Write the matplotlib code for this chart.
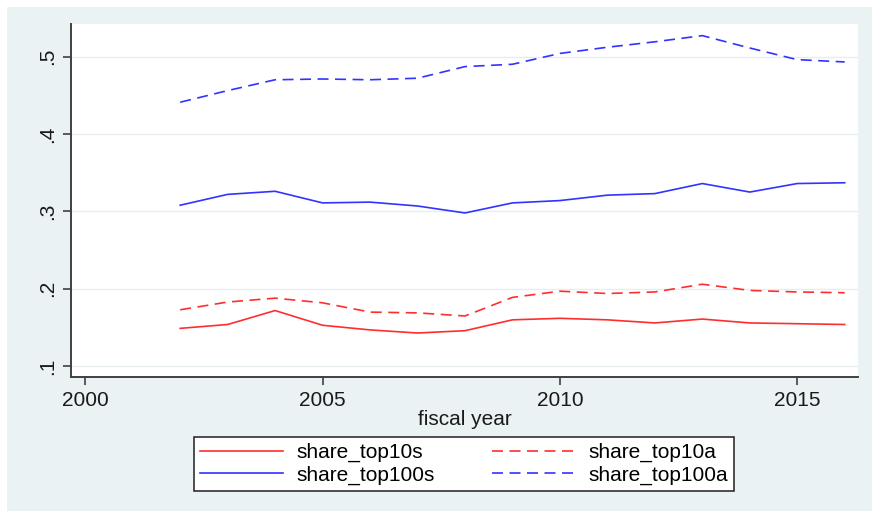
import numpy as np
import matplotlib.pyplot as plt
from matplotlib.patches import Rectangle

plt.rcParams['font.family'] = ['Liberation Sans', 'DejaVu Sans']

years = np.arange(2002, 2017)

share_top10s = [0.149, 0.154, 0.172, 0.153, 0.147, 0.143, 0.146, 0.160, 0.162,
                0.160, 0.156, 0.161, 0.156, 0.155, 0.154]
share_top10a = [0.173, 0.183, 0.188, 0.182, 0.170, 0.169, 0.165, 0.189, 0.197,
                0.194, 0.196, 0.206, 0.198, 0.196, 0.195]
share_top100s = [0.308, 0.322, 0.326, 0.311, 0.312, 0.307, 0.298, 0.311, 0.314,
                 0.321, 0.323, 0.336, 0.325, 0.336, 0.337]
share_top100a = [0.441, 0.456, 0.470, 0.471, 0.470, 0.472, 0.487, 0.490, 0.504,
                 0.512, 0.519, 0.527, 0.511, 0.496, 0.493]

yticks = [0.1, 0.2, 0.3, 0.4, 0.5]
ytick_labels = ['.1', '.2', '.3', '.4', '.5']
xticks = [2000, 2005, 2010, 2015]

bg = '#eaf2f3'
red = '#ff2e2e'
blue = '#3333ff'
dash = (0, (6.6, 3.9))

fig = plt.figure(figsize=(8.72, 5.11), dpi=100)
fig.patch.set_facecolor('white')
fig.patches.append(Rectangle((7 / 872, 0), 1, 1 - 7 / 511, transform=fig.transFigure,
                             facecolor=bg, edgecolor='none', zorder=-10))

ax = fig.add_axes([71 / 872, 134 / 511, 787 / 872, 353 / 511])
ax.set_facecolor('white')

l1, = ax.plot(years, share_top10s, color=red, lw=1.2, label='share_top10s')
l2, = ax.plot(years, share_top10a, color=red, lw=1.2, ls=dash, label='share_top10a')
l3, = ax.plot(years, share_top100s, color=blue, lw=1.2, label='share_top100s')
l4, = ax.plot(years, share_top100a, color=blue, lw=1.2, ls=dash, label='share_top100a')

ax.set_xlim(1999.70, 2016.28)
ax.set_ylim(0.0862, 0.542)
ax.set_yticks(yticks)
ax.set_yticklabels(ytick_labels, rotation=90, va='center')
ax.set_xticks(xticks)
ax.grid(axis='y', color='#e6eef0', lw=1.0)
ax.set_axisbelow(True)

for s in ['top', 'right']:
    ax.spines[s].set_visible(False)
for s in ['left', 'bottom']:
    ax.spines[s].set_color('#404040')
    ax.spines[s].set_linewidth(1.4)
ax.tick_params(direction='out', length=6, width=1.2, color='#404040',
               labelsize=15, labelcolor='#1a1a1a', pad=4)

ax.set_xlabel('fiscal year', fontsize=15, color='#1a1a1a', labelpad=0)

leg = fig.legend([l1, l3, l2, l4],
                 ['share_top10s', 'share_top100s', 'share_top10a', 'share_top100a'],
                 ncol=2, loc='center', bbox_to_anchor=(464 / 872, 1 - 464 / 511),
                 fontsize=15, frameon=True, fancybox=False, framealpha=1,
                 edgecolor='#303030', handlelength=4.0, handletextpad=0.65,
                 columnspacing=2.7, borderpad=0.3, labelspacing=0.15)
leg.get_frame().set_linewidth(1.2)

fig.savefig('out.png', dpi=100)
